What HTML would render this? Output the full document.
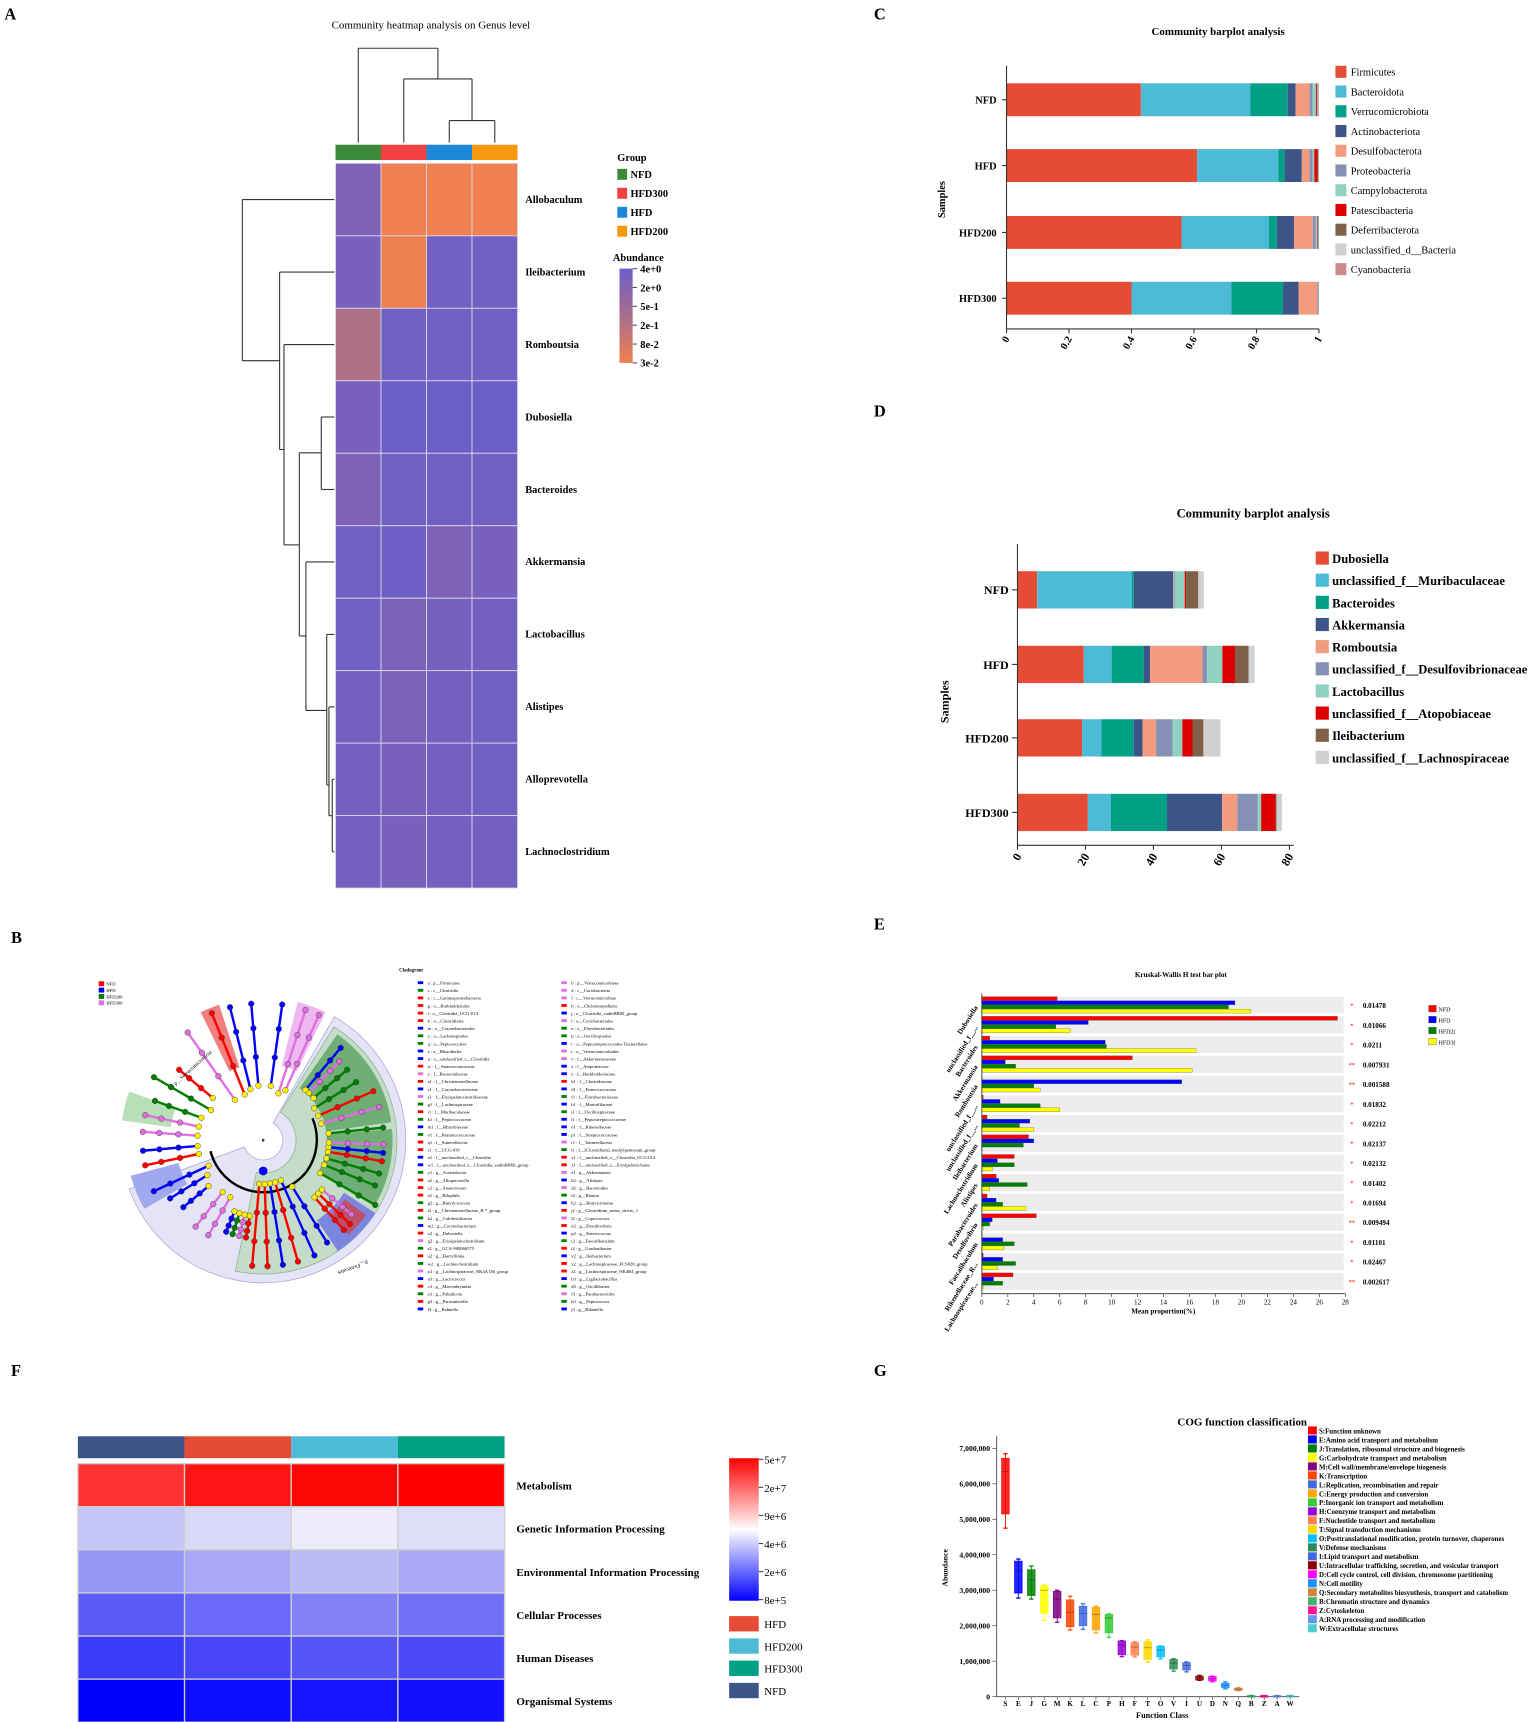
<!DOCTYPE html>
<html><head><meta charset="utf-8">
<style>
html,body{margin:0;padding:0;background:#fff;}
svg{display:block;font-family:"Liberation Serif",serif;}
</style></head>
<body>
<svg id="fig" width="1535" height="1722" viewBox="0 0 1400 1570.6" xmlns="http://www.w3.org/2000/svg">
<rect x="0" y="0" width="1400" height="1570.6" fill="#fff"/>
<g font-weight="bold" font-size="15">
<text x="4" y="18">A</text>
<text x="10" y="860">B</text>
<text x="797" y="18">C</text>
<text x="797" y="380">D</text>
<text x="797" y="848">E</text>
<text x="10" y="1255">F</text>
<text x="797" y="1255">G</text>
</g>
<g id="A"></g><g id="B"></g><g id="C"></g><g id="D"></g><g id="E"></g><g id="F"></g><g id="G"></g>
</svg>
<script>
const NS="http://www.w3.org/2000/svg";
function mk(tag,attrs,parent){const e=document.createElementNS(NS,tag);for(const k in attrs)e.setAttribute(k,attrs[k]);parent.appendChild(e);return e;}
function tx(parent,x,y,s,size,extra){const e=mk('text',Object.assign({x:x,y:y,'font-size':size},extra||{}),parent);e.textContent=s;return e;}

/* ================= Panel A: genus heatmap ================= */
const aGroups=["NFD","HFD300","HFD","HFD200"];
const aGroupColors=["#3a8a3a","#f04040","#1e88d8","#f59a10"];
const aGenera=["Allobaculum","Ileibacterium","Romboutsia","Dubosiella","Bacteroides","Akkermansia","Lactobacillus","Alistipes","Alloprevotella","Lachnoclostridium"];
const aValues=[
[0.86,0.0,0.0,0.0],
[0.9,0.02,0.95,0.95],
[0.45,0.97,0.97,0.97],
[0.9,1,1,1],
[0.86,0.97,0.97,0.95],
[0.96,0.98,0.86,0.9],
[0.96,0.88,0.92,0.93],
[0.93,0.88,0.93,0.95],
[0.93,0.91,0.93,0.95],
[0.93,0.9,0.93,0.93]];
const aTicks=["4e+0","2e+0","5e-1","2e-1","8e-2","3e-2"];
(function(){
const g=document.getElementById('A');
const t=tx(g,393,26,"Community heatmap analysis on Genus level",10,{'text-anchor':'middle'});


function col(v){const o=[240,128,80],m=[168,110,140],p=[108,94,200];let a,b,f;if(v<0.5){a=o;b=m;f=v/0.5;}else{a=m;b=p;f=(v-0.5)/0.5;}return 'rgb('+a.map((c,i)=>Math.round(c+(b[i]-c)*f)).join(',')+')';}
const x0=306,cw=41.5,y0=149,rh=66.1;
aGroups.forEach((gname,j)=>{
 const r=mk('rect',{x:x0+j*cw,y:132,width:cw,height:14,fill:aGroupColors[j]},g);
 
 
});
aGenera.forEach((gen,i)=>{
 aValues[i].forEach((v,j)=>{
  const r=mk('rect',{x:x0+j*cw,y:y0+i*rh,width:cw,height:rh,fill:col(v),stroke:'#d8d8e8','stroke-width':0.8},g);
  
  
 });
 const l=tx(g,479,y0+i*rh+rh/2+3,gen,9.5,{'font-weight':'bold'});
 
 
});
const cx=j=>x0+j*cw+cw/2;
const dend=[[cx(2),130,cx(2),110],[cx(3),130,cx(3),110],[cx(2),110,cx(3),110],[(cx(2)+cx(3))/2,110,(cx(2)+cx(3))/2,72],[cx(1),130,cx(1),72],[cx(1),72,(cx(2)+cx(3))/2,72],[(cx(1)+(cx(2)+cx(3))/2)/2,72,(cx(1)+(cx(2)+cx(3))/2)/2,44],[cx(0),130,cx(0),44],[cx(0),44,(cx(1)+(cx(2)+cx(3))/2)/2,44]];
const dg=mk('g',{stroke:'#333','stroke-width':1},g);


dend.forEach(d=>mk('line',{x1:d[0],y1:d[1],x2:d[2],y2:d[3]},dg));
const ry=i=>y0+i*rh+rh/2;
const lg=mk('g',{stroke:'#333','stroke-width':1,fill:'none'},g);


const nodes=[
 [303,ry(8),ry(9)],[300,ry(7),744],[298,ry(6),716],[279,ry(5),648],[293,ry(3),ry(4)],[273,413,580],[259,ry(2),497],[255,ry(1),410],[221,ry(0),329]];
nodes.forEach(n=>mk('line',{x1:n[0],y1:n[1],x2:n[0],y2:n[2]},lg));
const hs=[[221,ry(0),305],[255,ry(1),305],[259,ry(2),305],[293,ry(3),305],[293,ry(4),305],[279,ry(5),305],[298,ry(6),305],[300,ry(7),305],[303,ry(8),305],[303,ry(9),305],
 [221,329,255],[255,410,259],[259,497,273],[273,413,293],[273,580,279],[279,648,298],[298,716,300],[300,744,303]];
hs.forEach(h=>mk('line',{x1:h[0],y1:h[1],x2:h[2],y2:h[1]},lg));
const lgTitle=tx(g,563,147,"Group",9.5,{'font-weight':'bold'});


[0,1,2,3].forEach((j,k)=>{
 const y=154+k*17.3;
 const s=mk('rect',{x:563,y:y,width:9,height:10,fill:aGroupColors[j]},g);
 
 
 const l=tx(g,575,y+8.5,aGroups[j],9.5,{'font-weight':'bold'});
 
 
});
const ab=tx(g,559,238,"Abundance",9.5,{'font-weight':'bold'});


const defs=mk('defs',{},g);
const lgr=mk('linearGradient',{id:'abgrad',x1:0,y1:0,x2:0,y2:1},defs);
mk('stop',{offset:'0','stop-color':'rgb(108,94,200)'},lgr);
mk('stop',{offset:'0.5','stop-color':'rgb(168,110,140)'},lgr);
mk('stop',{offset:'1','stop-color':'rgb(240,128,80)'},lgr);
const cb=mk('rect',{x:565,y:245,width:12,height:86,fill:'url(#abgrad)'},g);


aTicks.forEach((tk,i)=>{
 const y=245+i*86/5;
 mk('line',{x1:577,y1:y,x2:581,y2:y,stroke:'#555'},g);
 const l=tx(g,584,y+3.5,tk,9.5,{'font-weight':'bold'});
 
 
});
})();

/* ================= Panel B: cladogram ================= */
const bGroups=["NFD","HFD","HFD200","HFD300"];
const bColors=["#ff0000","#0000ff","#008000","#e070e0"];
const bCol1=[["a : p__Firmicutes",1],["c : c__Clostridia",2],["e : c__Gammaproteobacteria",0],["g : o__Burkholderiales",0],["i : o__Clostridia_UCG-014",0],["k : o__Clostridiales",0],["m : o__Corynebacteriales",1],["o : o__Lachnospirales",2],["q : o__Peptococcales",2],["s : o__Rhizobiales",1],["u : o__unclassified_c__Clostridia",1],["w : f__Anaerovoracaceae",0],["y : f__Bacteroidaceae",3],["a1 : f__Christensenellaceae",0],["c1 : f__Corynebacteriaceae",1],["e1 : f__Erysipelatoclostridiaceae",3],["g1 : f__Lachnospiraceae",2],["i1 : f__Muribaculaceae",0],["k1 : f__Peptococcaceae",2],["m1 : f__Rhizobiaceae",1],["o1 : f__Ruminococcaceae",2],["q1 : f__Sutterellaceae",0],["s1 : f__UCG-010",0],["u1 : f__unclassified_c__Clostridia",1],["w1 : f__unclassified_o__Clostridia_vadinBB60_group",1],["y1 : g__Acetatifactor",2],["a2 : g__Alloprevotella",0],["c2 : g__Anaerovorax",0],["e2 : g__Bilophila",0],["g2 : g__Butyricicoccus",2],["i2 : g__Christensenellaceae_R-7_group",0],["k2 : g__Colidextribacter",2],["m2 : g__Corynebacterium",1],["o2 : g__Dubosiella",0],["q2 : g__Erysipelatoclostridium",3],["s2 : g__GCA-900066575",2],["u2 : g__Harryflintia",0],["w2 : g__Lachnoclostridium",2],["y2 : g__Lachnospiraceae_NK4A136_group",3],["a3 : g__Lactococcus",1],["c3 : g__Marvinbryantia",0],["e3 : g__Paludicola",2],["g3 : g__Parasutterella",0],["i3 : g__Rahnella",1],["k3 : g__Rikenellaceae_RC9_gut_group",2],["m3 : g__Roseburia",2]];
const bCol2=[["b : p__Verrucomicrobiota",3],["d : c__Coriobacteriia",3],["f : c__Verrucomicrobiae",3],["h : o__Christensenellales",0],["j : o__Clostridia_vadinBB60_group",1],["l : o__Coriobacteriales",3],["n : o__Flavobacteriales",2],["p : o__Oscillospirales",2],["r : o__Peptostreptococcales-Tissierellales",1],["t : o__Verrucomicrobiales",3],["v : f__Akkermansiaceae",3],["x : f__Atopobiaceae",1],["z : f__Burkholderiaceae",1],["b1 : f__Clostridiaceae",0],["d1 : f__Enterococcaceae",1],["f1 : f__Flavobacteriaceae",2],["h1 : f__Marinifilaceae",1],["j1 : f__Oscillospiraceae",2],["l1 : f__Peptostreptococcaceae",1],["n1 : f__Rikenellaceae",1],["p1 : f__Streptococcaceae",1],["r1 : f__Tannerellaceae",3],["t1 : f__[Clostridium]_methylpentosum_group",2],["v1 : f__unclassified_o__Clostridia_UCG-014",0],["x1 : f__unclassified_o__Erysipelotrichales",0],["z1 : g__Akkermansia",3],["b2 : g__Alistipes",1],["d2 : g__Bacteroides",3],["f2 : g__Blautia",2],["h2 : g__Butyricimonas",1],["j2 : g__Clostridium_sensu_stricto_1",0],["l2 : g__Coprococcus",3],["n2 : g__Desulfovibrio",0],["p2 : g__Enterococcus",1],["r2 : g__Faecalibaculum",2],["t2 : g__Gordonibacter",0],["v2 : g__Ileibacterium",1],["x2 : g__Lachnospiraceae_FCS020_group",0],["z2 : g__Lachnospiraceae_NK4B4_group",0],["b3 : g__Ligilactobacillus",1],["d3 : g__Oscillibacter",2],["f3 : g__Parabacteroides",3],["h3 : g__Peptococcus",2],["j3 : g__Rikenella",1],["l3 : g__Romboutsia",1],["n3 : g__Streptococcus",1]];
const bSpokes=[[-112,0,45,125],[-104,1,48,125],[-95,1,50,125],[-82,1,50,125],[-72,3,45,125],[-66,3,50,125],[-125,3,45,120],[-140,0,60,100],[-150,2,55,115],[-160,2,60,105],[-168,3,60,110],[-176,3,60,110],[175,1,60,110],[168,0,60,110],[155,1,55,110],[148,1,60,100],[140,1,65,95],[128,3,60,100],[120,3,60,100],[112,1,70,90],[108,2,70,90],[104,3,70,90],[100,0,70,90],[95,0,40,115],[88,0,40,115],[81,1,40,115],[74,0,40,115],[66,1,40,115],[58,1,50,110],[48,0,70,110],[44,0,70,110],[40,3,70,105],[30,2,60,118],[22,2,60,110],[16,2,60,110],[10,0,60,110],[6,1,60,110],[2,3,60,110],[-6,2,60,110],[-16,3,55,110],[-24,0,55,110],[-32,2,55,100],[-40,2,60,100],[-46,3,60,100],[-50,1,60,110]];
(function(){
const g=document.getElementById('B');
const C=[240,1040];
function arc(r1,r2,a1,a2,fill,stroke,name){
 const rad=a=>a*Math.PI/180;
 const p=(r,a)=>[C[0]+r*Math.cos(rad(a)),C[1]+r*Math.sin(rad(a))];
 const large=(a2-a1)>180?1:0;
 const A=p(r2,a1),B=p(r2,a2),Cc=p(r1,a2),D=p(r1,a1);
 const d='M'+A+' A'+r2+','+r2+' 0 '+large+' 1 '+B+' L'+Cc+' A'+r1+','+r1+' 0 '+large+' 0 '+D+' Z';
 const e=mk('path',{d:d,fill:fill,stroke:stroke||'none','stroke-width':0.7},g);
 
 
 return e;
}
arc(18,130,-60,160,'#e4e4f6','#a8a8d8','clade-verrucomicrobiota-ring');
arc(30,122,-58,102,'#c5dcc8','#8ab58f','clade-firmicutes-sector');
arc(58,118,-55,-8,'#6fae74','none','clade-green-sector-1');
arc(58,118,-5,30,'#6fae74','none','clade-green-sector-2');
arc(88,122,33,56,'#7c86e0','none','clade-blue-sector');
arc(92,116,36,48,'#c0506a','none','clade-red-sector');
arc(70,130,-116,-108,'#f08080','none','clade-red-wedge');
arc(70,130,-76,-64,'#f0b8f0','none','clade-pink-wedge');
arc(85,130,-172,-160,'#b8e0b8','none','clade-green-wedge');
arc(80,125,150,165,'#a0a8f0','none','clade-blue-wedge');
mk('circle',{cx:C[0],cy:C[1],r:1.2,fill:'#333'},g);
const core=mk('path',{d:'M'+(C[0]-48)+','+(C[1]+10)+' A50,50 0 0 0 '+(C[0]+40)+','+(C[1]+28)+' M'+(C[0]+40)+','+(C[1]+28)+' A50,50 0 0 0 '+(C[0]+45)+','+(C[1]-20),fill:'none',stroke:'#000','stroke-width':2.2},g);


bSpokes.forEach(s=>{
 const a=s[0]*Math.PI/180,col=bColors[s[1]];
 const x1=C[0]+s[2]*Math.cos(a),y1=C[1]+s[2]*Math.sin(a),x2=C[0]+s[3]*Math.cos(a),y2=C[1]+s[3]*Math.sin(a);
 const ln=mk('line',{x1:x1,y1:y1,x2:x2,y2:y2,stroke:col,'stroke-width':2.2},g);
 
 
 [0,0.35,0.7,1].forEach(f=>{
  const c=mk('circle',{cx:x1+(x2-x1)*f,cy:y1+(y2-y1)*f,r:2.6,fill:f===0?'#ffee00':col,stroke:'#333','stroke-width':0.4},g);
  
  
 });
});
const bn=mk('circle',{cx:C[0],cy:C[1]+28,r:4,fill:'#0000ff'},g);


const lab1=tx(g,160,990,"p__Verrucomicrobiota",5,{transform:'rotate(-42 160 990)'});


const lab2=tx(g,335,1150,"p__Firmicutes",5,{transform:'rotate(160 335 1150)'});


bGroups.forEach((n,i)=>{
 const y=895+i*5.8;
 const s=mk('rect',{x:90,y:y,width:5,height:4.5,fill:bColors[i]},g);
 
 
 const l=tx(g,97,y+4,n,4.2);
 
 
});
const ct=tx(g,364,886,"Cladogram",4.5,{'font-weight':'bold'});


const clip=mk('clipPath',{id:'bclip'},mk('defs',{},g));
mk('rect',{x:370,y:890,width:300,height:308},clip);
const lg=mk('g',{'clip-path':'url(#bclip)'},g);
[[bCol1,381],[bCol2,512]].forEach(cc=>{
 cc[0].forEach((it,i)=>{
  const y=895+i*6.92;
  const s=mk('rect',{x:cc[1],y:y,width:5,height:2.6,fill:bColors[it[1]]},lg);
  
  
  const l=tx(lg,cc[1]+9,y+3,it[0],4.2);
  
  
 });
});
})();

/* ================= Panel C: phylum barplot ================= */
const cSamples=["NFD","HFD","HFD200","HFD300"];
const cTaxa=["Firmicutes","Bacteroidota","Verrucomicrobiota","Actinobacteriota","Desulfobacterota","Proteobacteria","Campylobacterota","Patescibacteria","Deferribacterota","unclassified_d__Bacteria","Cyanobacteria"];
const cColors=["#e64b35","#4dbbd5","#00a087","#3c5488","#f39b7f","#8491b4","#91d1c2","#dc0000","#7e6148","#cfcfcf","#c98b8b"];
const cValues=[
[0.43,0.35,0.12,0.025,0.045,0.01,0.01,0.002,0.003,0.003,0.002],
[0.61,0.26,0.02,0.055,0.025,0.01,0.005,0.01,0.003,0.001,0.001],
[0.56,0.28,0.025,0.055,0.06,0.01,0.005,0.002,0.002,0.001,0.0],
[0.40,0.32,0.165,0.05,0.06,0.004,0.001,0.0,0.0,0.0,0.0]];
const cTicks=[0,0.2,0.4,0.6,0.8,1];
(function(){
const g=document.getElementById('C');
const X0=918,X1=1203,xs=v=>X0+v*(X1-X0);
const t=tx(g,1111,32,"Community barplot analysis",10,{'text-anchor':'middle','font-weight':'bold'});


const ys=[91,151,212,272];
cSamples.forEach((s,i)=>{
 let acc=0;
 cValues[i].forEach((v,k)=>{
  if(v<=0)return;
  const r=mk('rect',{x:xs(acc),y:ys[i]-15,width:xs(acc+v)-xs(acc),height:30,fill:cColors[k]},g);
  
  
  acc+=v;
 });
 const l=tx(g,909,ys[i]+3.5,s,9.5,{'text-anchor':'end','font-weight':'bold'});
 
 
 mk('line',{x1:914,y1:ys[i],x2:918,y2:ys[i],stroke:'#333'},g);
});
mk('line',{x1:X0,y1:60,x2:X0,y2:300,stroke:'#333'},g);
mk('line',{x1:X0,y1:300,x2:X1,y2:300,stroke:'#333'},g);
cTicks.forEach(v=>{
 mk('line',{x1:xs(v),y1:300,x2:xs(v),y2:304,stroke:'#333'},g);
 const l=tx(g,xs(v)+3,309,String(v),9.5,{'text-anchor':'end','font-weight':'bold',transform:'rotate(-60 '+(xs(v)+3)+' 309)'});
 
 
});
const sa=tx(g,862,182,"Samples",9.5,{'text-anchor':'middle','font-weight':'bold',transform:'rotate(-90 862 182)'});


cTaxa.forEach((n,k)=>{
 const y=60+k*18;
 const s=mk('rect',{x:1218,y:y,width:10,height:11,fill:cColors[k]},g);
 
 
 const l=tx(g,1232,y+9,n,9.5);
 
 
});
})();

/* ================= Panel D: genus barplot ================= */
const dSamples=["NFD","HFD","HFD200","HFD300"];
const dTaxa=["Dubosiella","unclassified_f__Muribaculaceae","Bacteroides","Akkermansia","Romboutsia","unclassified_f__Desulfovibrionaceae","Lactobacillus","unclassified_f__Atopobiaceae","Ileibacterium","unclassified_f__Lachnospiraceae"];
const dColors=["#e64b35","#4dbbd5","#00a087","#3c5488","#f39b7f","#8491b4","#91d1c2","#dc0000","#7e6148","#d0d0d0"];
const dValues=[
[5.8,27.8,0.6,11.6,0.2,0.2,3.0,0.4,3.6,1.6],
[19.5,8.2,9.5,1.8,15.4,1.4,4.5,3.7,4.0,1.8],
[19.0,5.7,9.5,2.6,4.0,4.8,2.9,3.0,3.2,5.0],
[20.7,6.8,16.5,16.2,4.5,6.0,1.0,4.2,0.3,1.6]];
const dTicks=[0,20,40,60,80];
(function(){
const g=document.getElementById('D');
const X0=928,xs=v=>X0+v*3.1;
const t=tx(g,1143,472,"Community barplot analysis",11.5,{'text-anchor':'middle','font-weight':'bold'});


const ys=[538,606,673,741];
dSamples.forEach((s,i)=>{
 let acc=0;
 dValues[i].forEach((v,k)=>{
  const r=mk('rect',{x:xs(acc),y:ys[i]-17,width:xs(acc+v)-xs(acc),height:34,fill:dColors[k]},g);
  
  
  acc+=v;
 });
 const l=tx(g,920,ys[i]+4,s,11,{'text-anchor':'end','font-weight':'bold'});
 
 
 mk('line',{x1:923,y1:ys[i],x2:928,y2:ys[i],stroke:'#333'},g);
});
mk('line',{x1:X0,y1:496,x2:X0,y2:771,stroke:'#333'},g);
mk('line',{x1:X0,y1:771,x2:1180,y2:771,stroke:'#333'},g);
dTicks.forEach(v=>{
 mk('line',{x1:xs(v),y1:771,x2:xs(v),y2:775,stroke:'#333'},g);
 const l=tx(g,xs(v)+4,781,String(v),11,{'text-anchor':'end','font-weight':'bold',transform:'rotate(-60 '+(xs(v)+4)+' 781)'});
 
 
});
const sa=tx(g,865,640,"Samples",11,{'text-anchor':'middle','font-weight':'bold',transform:'rotate(-90 865 640)'});


dTaxa.forEach((n,k)=>{
 const y=503+k*20.2;
 const s=mk('rect',{x:1200,y:y,width:12,height:12,fill:dColors[k]},g);
 
 
 const l=tx(g,1215,y+10.5,n,11.5,{'font-weight':'bold'});
 
 
});
})();

/* ================= Panel E: Kruskal-Wallis ================= */
const eGroups=["NFD","HFD","HFD2(","HFD3("];
const eColors=["#ff0000","#0000ff","#008000","#ffff00"];
const eTaxa=["Dubosiella","unclassified_f__...","Bacteroides","Akkermansia","Romboutsia","unclassified_f__...","unclassified_f__...","Ileibacterium","Lachnoclostridium","Alistipes","Parabacteroides","Desulfovibrio","Faecalibaculum","Rikenellaceae_R...","Lachnospiraceae..."];
const eNFD=[5.8,27.4,0.6,11.6,0.0,0.1,0.4,3.6,2.5,1.1,0.4,4.2,0.0,0.1,2.4];
const eHFD=[19.5,8.2,9.5,1.8,15.4,1.4,3.7,4.0,1.2,1.3,1.1,0.8,1.6,1.6,0.9];
const eHFD200=[19.0,5.7,9.6,2.6,4.0,4.5,2.9,3.2,2.5,3.5,1.6,0.6,2.5,2.6,1.6];
const eHFD300=[20.7,6.8,16.5,16.2,4.5,6.0,4.0,0.0,0.8,0.6,3.4,0.1,1.7,1.2,0.1];
const ePvals=["0.01478","0.01066","0.0211","0.007931","0.001588","0.01832","0.02212","0.02137","0.02132","0.01402","0.01694","0.009494","0.01101","0.02467","0.002617"];
const eStars=["*","*","*","**","**","*","*","*","*","*","*","**","*","*","**"];
const eTicks=[0,2,4,6,8,10,12,14,16,18,20,22,24,26,28];
(function(){
const g=document.getElementById('E');
const X0=895.5,xs=v=>X0+v*(1227-X0)/28,T0=909,bh=18;
const t=tx(g,1077,891,"Kruskal-Wallis H test bar plot",6.5,{'text-anchor':'middle','font-weight':'bold'});


const series=[eNFD,eHFD,eHFD200,eHFD300];
eTaxa.forEach((n,i)=>{
 const top=T0+i*bh;
 const band=mk('rect',{x:X0,y:top,width:330,height:15.5,fill:'#ececec'},g);
 
 
 series.forEach((ser,k)=>{
  const b=mk('rect',{x:X0,y:top+k*3.8,width:Math.max(0.3,xs(ser[i])-X0),height:3.6,fill:eColors[k],stroke:'#444','stroke-width':0.25},g);
  
  
 });
 const l=tx(g,892,top+10,n,6.5,{'text-anchor':'end','font-weight':'bold',transform:'rotate(-58 892 '+(top+10)+')'});
 
 
 const st=tx(g,1233,top+10,eStars[i],6,{'text-anchor':'middle',fill:'#e00000'});
 
 
 const p=tx(g,1243,top+10.5,ePvals[i],6.5,{'font-weight':'bold'});
 
 
});
mk('line',{x1:X0,y1:906,x2:X0,y2:1180,stroke:'#333','stroke-width':0.8},g);
mk('line',{x1:X0,y1:1180,x2:1227,y2:1180,stroke:'#333','stroke-width':0.8},g);
eTicks.forEach(v=>{
 mk('line',{x1:xs(v),y1:1180,x2:xs(v),y2:1183,stroke:'#333','stroke-width':0.6},g);
 const l=tx(g,xs(v),1190,String(v),6.5,{'text-anchor':'middle'});
 
 
});
const xt=tx(g,1061,1198,"Mean proportion(%)",6.5,{'text-anchor':'middle','font-weight':'bold'});


eGroups.forEach((n,k)=>{
 const y=917+k*10;
 const s=mk('rect',{x:1303,y:y,width:7,height:6,fill:eColors[k],stroke:'#444','stroke-width':0.3},g);
 
 
 const l=tx(g,1312,y+5.5,n,5.5);
 
 
});
})();

/* ================= Panel F: KEGG heatmap ================= */
const fGroups=["NFD","HFD","HFD200","HFD300"];
const fGroupColors=["#3c5488","#e64b35","#4dbbd5","#00a087"];
const fPaths=["Metabolism","Genetic Information Processing","Environmental Information Processing","Cellular Processes","Human Diseases","Organismal Systems"];
const fColors=[
["#ff3232","#ff1414","#ff0606","#ff0000"],
["#c6c6f8","#dadaf8","#ebebfb","#dedef8"],
["#9696f6","#a8a8f6","#babaf6","#a8a8f6"],
["#5a5af6","#6a6af6","#8282f6","#7070f6"],
["#3a3af8","#4646f8","#5656f8","#4a4af8"],
["#0000ff","#0c0cff","#1414ff","#1010ff"]];
const fTicks=["5e+7","2e+7","9e+6","4e+6","2e+6","8e+5"];
const fLegend=["HFD","HFD200","HFD300","NFD"];
const fLegendColors=["#e64b35","#4dbbd5","#00a087","#3c5488"];
(function(){
const g=document.getElementById('F');
const x0=71,cw=97.3,y0=1335,rh=39.3;
fGroups.forEach((n,j)=>{
 const r=mk('rect',{x:x0+j*cw,y:1310,width:cw,height:20,fill:fGroupColors[j]},g);
 
 
});
fPaths.forEach((p,i)=>{
 fColors[i].forEach((c,j)=>{
  const r=mk('rect',{x:x0+j*cw,y:y0+i*rh,width:cw,height:rh,fill:c,stroke:'#cfcfcf','stroke-width':1.2},g);
  
  
 });
 const l=tx(g,471,y0+i*rh+rh/2+4,p,10,{'font-weight':'bold'});
 
 
});
const defs=mk('defs',{},g);
const gr=mk('linearGradient',{id:'fgrad',x1:0,y1:0,x2:0,y2:1},defs);
mk('stop',{offset:'0','stop-color':'#ff0000'},gr);
mk('stop',{offset:'0.5','stop-color':'#ffffff'},gr);
mk('stop',{offset:'1','stop-color':'#0000ff'},gr);
const cb=mk('rect',{x:665,y:1330,width:27,height:130,fill:'url(#fgrad)'},g);


fTicks.forEach((tk,i)=>{
 const y=1331+i*128/5;
 mk('line',{x1:692,y1:y,x2:696,y2:y,stroke:'#444'},g);
 const l=tx(g,697,y+4,tk,10);
 
 
});
fLegend.forEach((n,k)=>{
 const y=1474+k*20.3;
 const s=mk('rect',{x:665,y:y,width:27,height:14,fill:fLegendColors[k]},g);
 
 
 const l=tx(g,697,y+11,n,10);
 
 
});
})();

/* ================= Panel G: COG boxplots ================= */
const gClasses=["S","E","J","G","M","K","L","C","P","H","F","T","O","V","I","U","D","N","Q","B","Z","A","W"];
const gNames=["S:Function unknown","E:Amino acid transport and metabolism","J:Translation, ribosomal structure and biogenesis","G:Carbohydrate transport and metabolism","M:Cell wall/membrane/envelope biogenesis","K:Transcription","L:Replication, recombination and repair","C:Energy production and conversion","P:Inorganic ion transport and metabolism","H:Coenzyme transport and metabolism","F:Nucleotide transport and metabolism","T:Signal transduction mechanisms","O:Posttranslational modification, protein turnover, chaperones","V:Defense mechanisms","I:Lipid transport and metabolism","U:Intracellular trafficking, secretion, and vesicular transport","D:Cell cycle control, cell division, chromosome partitioning","N:Cell motility","Q:Secondary metabolites biosynthesis, transport and catabolism","B:Chromatin structure and dynamics","Z:Cytoskeleton","A:RNA processing and modification","W:Extracellular structures"];
const gColors=["#ff0000","#0000ff","#008000","#ffff00","#800080","#ff4500","#4169e1","#ffa500","#32cd32","#9400d3","#ff7f50","#ffd700","#00bfff","#2e8b57","#4169e1","#8b0000","#ff00ff","#1e90ff","#cd853f","#3cb371","#ff1493","#6495ed","#48d1cc"];
const gMin=[4.75,2.78,2.75,2.15,2.1,1.88,1.9,1.8,1.67,1.13,1.12,0.97,1.07,0.72,0.7,0.46,0.42,0.22,0.17,0.005,0.005,0.005,0.005];
const gQ1=[5.15,2.92,2.85,2.35,2.22,1.97,2.0,1.88,1.8,1.18,1.17,1.05,1.12,0.78,0.75,0.47,0.44,0.25,0.18,0.01,0.01,0.01,0.01];
const gMed=[6.35,3.55,3.3,3.0,2.75,2.38,2.35,2.32,2.22,1.45,1.4,1.38,1.32,0.95,0.88,0.52,0.5,0.32,0.21,0.02,0.02,0.02,0.02];
const gQ3=[6.72,3.82,3.58,3.12,2.97,2.73,2.55,2.52,2.32,1.57,1.52,1.55,1.42,1.05,0.96,0.58,0.57,0.38,0.24,0.03,0.03,0.03,0.03];
const gMax=[6.85,3.88,3.68,3.15,3.0,2.83,2.62,2.55,2.33,1.58,1.55,1.6,1.43,1.07,0.98,0.6,0.58,0.42,0.25,0.035,0.035,0.035,0.035];
const gTicks=[0,1,2,3,4,5,6,7];
const gTickLabels=["0","1,000,000","2,000,000","3,000,000","4,000,000","5,000,000","6,000,000","7,000,000"];
(function(){
const g=document.getElementById('G');
const Y0=1547.5,Y7=1321,ys=v=>Y0-v*(Y0-Y7)/7;
const xs=i=>917+i*11.8;
const t=tx(g,1133,1300,"COG function classification",10,{'text-anchor':'middle','font-weight':'bold'});


mk('line',{x1:909,y1:1310,x2:909,y2:Y0,stroke:'#444','stroke-width':0.8},g);
mk('line',{x1:909,y1:Y0,x2:1185,y2:Y0,stroke:'#444','stroke-width':0.8},g);
gTicks.forEach((v,i)=>{
 mk('line',{x1:905,y1:ys(v),x2:909,y2:ys(v),stroke:'#444','stroke-width':0.6},g);
 const l=tx(g,903,ys(v)+2.5,gTickLabels[i],7,{'text-anchor':'end','font-weight':'bold'});
 
 
});
const yt=tx(g,864,1430,"Abundance",7,{'text-anchor':'middle','font-weight':'bold',transform:'rotate(-90 864 1430)'});


gClasses.forEach((c,i)=>{
 const x=xs(i),col=gColors[i];
 const wh=mk('line',{x1:x,y1:ys(gMin[i]),x2:x,y2:ys(gMax[i]),stroke:col,'stroke-width':0.8},g);
 
 
 [gMin[i],gMax[i]].forEach(v=>mk('line',{x1:x-2,y1:ys(v),x2:x+2,y2:ys(v),stroke:col,'stroke-width':1.2},g));
 const b=mk('rect',{x:x-3.5,y:ys(gQ3[i]),width:7,height:Math.max(1.5,ys(gQ1[i])-ys(gQ3[i])),fill:col,stroke:col,'stroke-width':0.6,'fill-opacity':0.85},g);
 
 
 mk('line',{x1:x-3.5,y1:ys(gMed[i]),x2:x+3.5,y2:ys(gMed[i]),stroke:'#00000055','stroke-width':0.8},g);
 mk('line',{x1:x,y1:Y0,x2:x,y2:Y0+3,stroke:'#444','stroke-width':0.5},g);
 const l=tx(g,x,1556,c,6.5,{'text-anchor':'middle','font-weight':'bold'});
 
 
});
const xt=tx(g,1060,1567,"Function Class",7.5,{'text-anchor':'middle','font-weight':'bold'});


gNames.forEach((n,i)=>{
 const y=1301+i*8.2;
 const s=mk('rect',{x:1193,y:y,width:8,height:7.4,fill:gColors[i]},g);
 
 
 const l=tx(g,1203,y+6.3,n,6.3,{'font-weight':'bold'});
 
 
});
})();
</script>
</body></html>
